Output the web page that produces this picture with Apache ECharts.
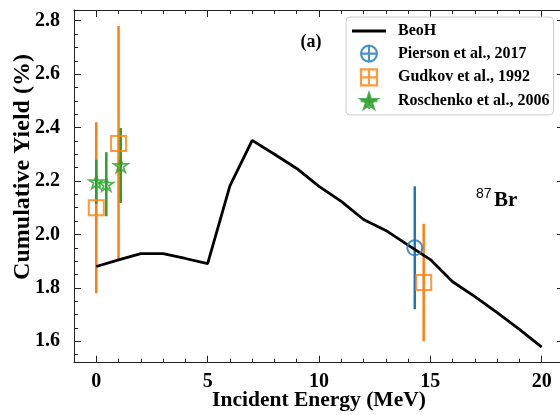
<!DOCTYPE html>
<html>
<head>
<meta charset="utf-8">
<script src="https://cdn.jsdelivr.net/npm/echarts@6/dist/echarts.min.js"></script>
<style>html,body{margin:0;padding:0;background:#fff}#c{width:560px;height:415px}</style>
</head>
<body>
<div id="c"></div>
<script>
// ---- data ----
const beohE = [0, 1, 2, 3, 4, 5, 6, 7, 8, 9, 10, 11, 12, 13, 14, 15, 16, 17, 18, 19, 20];
const beohY = [1.880, 1.905, 1.928, 1.928, 1.910, 1.891, 2.182, 2.352, 2.300, 2.247, 2.180, 2.124, 2.056, 2.015, 1.960, 1.906, 1.823, 1.767, 1.707, 1.645, 1.578];

const piersonE = [14.3];
const piersonY = [1.95];
const piersonErr = [0.23];

const gudkovE = [0, 1.0, 14.7];
const gudkovY = [2.10, 2.34, 1.82];
const gudkovErr = [0.32, 0.44, 0.22];

const roschE = [0, 0.45, 1.1];
const roschY = [2.197, 2.188, 2.258];
const roschErr = [0.083, 0.12, 0.14];

const xTickLabels = [0, 5, 10, 15, 20];
const yTickLabels = [1.6, 1.8, 2.0, 2.2, 2.4, 2.6, 2.8];

const names = ['BeoH', 'Pierson et al., 2017', 'Gudkov et al., 1992', 'Roschenko et al., 2006'];
const annot = '(a)';
const nuclideMass = '87';
const nuclide = 'Br';
const xTitle = 'Incident Energy (MeV)';
const yTitle = 'Cumulative Yield (%)';

// ---- styling ----
const SERIF = '"Liberation Serif", "Times New Roman", serif';
const BLUE = '#1f77b4', ORANGE = '#ff7f0e', GREEN = '#2ca02c';
const AX = '#222';

const STAR = 'M0,-1L0.2245,-0.309L0.951,-0.309L0.363,0.118L0.588,0.809L0,0.382L-0.588,0.809L-0.363,0.118L-0.951,-0.309L-0.2245,-0.309Z';

function errData(E, Y, R) { return E.map((e, i) => [e, Y[i] - R[i], Y[i] + R[i]]); }
function ptData(E, Y) { return E.map((e, i) => [e, Y[i]]); }
function errSeries(name, E, Y, R, color) {
  return {
    type: 'custom', name: name, xAxisIndex: 0, yAxisIndex: 0,
    data: errData(E, Y, R), encode: { x: 0, y: [1, 2] }, silent: true,
    renderItem: function (params, api) {
      const p1 = api.coord([api.value(0), api.value(1)]);
      const p2 = api.coord([api.value(0), api.value(2)]);
      return { type: 'line', shape: { x1: p1[0], y1: p1[1], x2: p2[0], y2: p2[1] }, style: { stroke: color, lineWidth: 2.5 } };
    }
  };
}
function isMult(v, step) { const q = v / step; return Math.abs(q - Math.round(q)) < 1e-6; }

const xLabelSet = new Set(xTickLabels.map(String));
const yLabelSet = new Set(yTickLabels.map(v => v.toFixed(1)));

function xAxisDef(grid, pos, major) {
  const a = {
    type: 'value', gridIndex: grid, position: pos, min: -1, max: 21,
    axisLine: { show: major, onZero: false, lineStyle: { color: AX, width: 1 } },
    axisTick: { show: true, inside: true, length: major ? 7 : 4, lineStyle: { color: AX, width: 1 } },
    splitLine: { show: false },
    axisLabel: { show: false }
  };
  if (major) a.splitNumber = 5; else a.interval = 1;
  if (major && pos === 'bottom') {
    a.axisLabel = {
      show: true, margin: 9, fontSize: 20, fontWeight: 'bold', fontFamily: SERIF, color: '#000',
      formatter: v => (isMult(v, 5) && xLabelSet.has(String(Math.round(v)))) ? String(Math.round(v)) : ''
    };
    a.name = xTitle; a.nameLocation = 'middle'; a.nameGap = 27; a.nameMoveOverlap = false;
    a.nameTextStyle = { fontSize: 21.5, fontWeight: 'bold', fontFamily: SERIF, color: '#000', verticalAlign: 'top' };
  }
  return a;
}
function yAxisDef(grid, pos, major) {
  const a = {
    type: 'value', gridIndex: grid, position: pos, min: 1.52, max: 2.84,
    splitNumber: major ? 6 : 26,
    axisLine: { show: major, onZero: false, lineStyle: { color: AX, width: 1 } },
    axisTick: { show: true, inside: true, length: major ? 7 : 4, lineStyle: { color: AX, width: 1 } },
    splitLine: { show: false },
    axisLabel: { show: false }
  };
  if (major && pos === 'left') {
    a.axisLabel = {
      show: true, margin: 14, fontSize: 20, fontWeight: 'bold', fontFamily: SERIF, color: '#000',
      formatter: v => (isMult(v, 0.2) && yLabelSet.has(v.toFixed(1))) ? v.toFixed(1) : ''
    };
  }
  return a;
}

const G = { left: 74, top: 10, width: 490, height: 352.7, containLabel: false, outerBoundsMode: 'none' };

const chart = echarts.init(document.getElementById('c'), null, { renderer: 'canvas' });
chart.setOption({
  animation: false,
  backgroundColor: '#fff',
  grid: [Object.assign({}, G), Object.assign({}, G), Object.assign({}, G), Object.assign({}, G)],
  xAxis: [xAxisDef(0, 'bottom', true), xAxisDef(1, 'bottom', false), xAxisDef(2, 'top', true), xAxisDef(3, 'top', false)],
  yAxis: [yAxisDef(0, 'left', true), yAxisDef(1, 'left', false), yAxisDef(2, 'right', true), yAxisDef(3, 'right', false)],
  legend: {
    left: 346, top: 17, orient: 'vertical', selectedMode: false,
    backgroundColor: 'rgba(255,255,255,0.85)', borderColor: '#cccccc', borderWidth: 1, borderRadius: 4,
    padding: [6, 4, 5, 6], itemGap: 5.5, itemWidth: 34, itemHeight: 16,
    textStyle: { fontSize: 16, fontWeight: 'bold', fontFamily: SERIF, color: '#000', padding: [0, 0, 0, 7] },
    data: [
      { name: names[0], icon: 'path://M0,0L34,0L34,3L0,3Z', itemStyle: { color: '#000', borderWidth: 0 } },
      { name: names[1], icon: 'path://M-1,0A1,1,0,1,1,1,0A1,1,0,1,1,-1,0ZM-1,0L1,0M0,-1L0,1', itemStyle: { color: 'rgba(0,0,0,0)', borderColor: BLUE, borderWidth: 2.2 } },
      { name: names[2], icon: 'path://M-1,-1L1,-1L1,1L-1,1ZM-1,0L1,0M0,-1L0,1', itemStyle: { color: 'rgba(0,0,0,0)', borderColor: ORANGE, borderWidth: 2.2 } },
      { name: names[3], icon: 'path://' + STAR + 'M0,-1L0,0.809M-0.951,-0.05L0.951,-0.05', itemStyle: { color: GREEN, borderColor: GREEN, borderWidth: 2 } }
    ]
  },
  series: [
    {
      type: 'line', name: names[0], xAxisIndex: 0, yAxisIndex: 0, data: ptData(beohE, beohY),
      showSymbol: false, symbol: 'none', lineStyle: { color: '#000', width: 2.8 }, itemStyle: { color: '#000' }, z: 2
    },
    errSeries('perr', piersonE, piersonY, piersonErr, BLUE),
    {
      type: 'scatter', name: names[1], xAxisIndex: 0, yAxisIndex: 0, data: ptData(piersonE, piersonY),
      symbol: 'circle', symbolSize: 15, itemStyle: { color: 'rgba(0,0,0,0)', borderColor: BLUE, borderWidth: 2 }
    },
    errSeries('gerr', gudkovE, gudkovY, gudkovErr, ORANGE),
    {
      type: 'scatter', name: names[2], xAxisIndex: 0, yAxisIndex: 0, data: ptData(gudkovE, gudkovY),
      symbol: 'rect', symbolSize: 15, itemStyle: { color: 'rgba(0,0,0,0)', borderColor: ORANGE, borderWidth: 2 }
    },
    errSeries('rerr', roschE, roschY, roschErr, GREEN),
    {
      type: 'scatter', name: names[3], xAxisIndex: 0, yAxisIndex: 0, data: ptData(roschE, roschY),
      symbol: 'path://' + STAR, symbolKeepAspect: true, symbolSize: 14,
      itemStyle: { color: 'rgba(0,0,0,0)', borderColor: GREEN, borderWidth: 1.8 }
    }
  ],
  graphic: [
    { type: 'text', x: 23, y: 167, rotation: Math.PI / 2,
      style: { text: yTitle, fontSize: 24, fontWeight: 'bold', fontFamily: SERIF, fill: '#000', align: 'center', verticalAlign: 'middle' } },
    { type: 'text', x: 311, y: 42,
      style: { text: annot, fontSize: 18, fontWeight: 'bold', fontFamily: SERIF, fill: '#000', align: 'center', verticalAlign: 'middle' } },
    { type: 'text', x: 476, y: 194,
      style: { text: nuclideMass, fontSize: 14, fontFamily: '"Liberation Sans", Arial, sans-serif', fill: '#000', align: 'left', verticalAlign: 'middle' } },
    { type: 'text', x: 494, y: 201,
      style: { text: nuclide, fontSize: 21, fontWeight: 'bold', fontFamily: SERIF, fill: '#000', align: 'left', verticalAlign: 'middle' } }
  ]
});
</script>
</body>
</html>
